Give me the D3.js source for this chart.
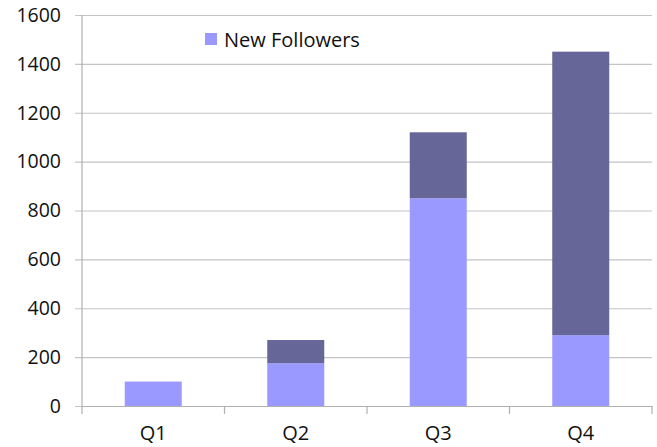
<!DOCTYPE html>
<html>
<head>
<meta charset="utf-8">
<script src="https://d3js.org/d3.v7.min.js"></script>
<style>
  body { margin: 0; background: #fff; }
  text { font-family: "Open Sans", sans-serif; fill: #111; }
</style>
</head>
<body>
<script>
let width = 657,
    height = 447;

let quarters = ["Q1", "Q2", "Q3", "Q4"];
let newFollowers = [100, 175, 850, 290];
let otherFollowers = [0, 95, 270, 1160];
let yTicks = [0, 200, 400, 600, 800, 1000, 1200, 1400, 1600];

let dataset = quarters.map(function(q, i) {
  return {Quarter: q, New: newFollowers[i], Other: otherFollowers[i]};
});

let series = d3.stack().keys(["New", "Other"])(dataset);
let colors = ["#9999ff", "#666699"];

let svg = d3.select("body")
            .append("svg")
            .attr("width", width)
            .attr("height", height);

let plotLeft = 82, plotRight = 652, plotTop = 15, plotBottom = 406;

let xScale = d3.scaleBand()
               .domain(quarters)
               .range([plotLeft, plotRight])
               .paddingInner(0.6)
               .paddingOuter(0.3);

let xOuter = d3.scaleBand().domain(quarters).range([plotLeft, plotRight]);

let yScale = d3.scaleLinear()
               .domain([0, 1600])
               .range([plotBottom, plotTop]);

// gridlines + y labels
let yAxis = d3.axisLeft(yScale)
              .tickValues(yTicks)
              .tickSize(-(plotRight - plotLeft) - 7)
              .tickPadding(14)
              .tickFormat(d3.format("d"));

let gy = svg.append("g")
   .attr("transform", "translate(" + (plotLeft - 7) + ",0)")
   .call(yAxis);
gy.select(".domain").remove();
gy.selectAll("line").attr("stroke", "#c4c4c4").attr("stroke-width", 1.2);
gy.selectAll("text").style("font-size", "19.5px");

// vertical axis line
svg.append("line")
   .attr("x1", plotLeft).attr("x2", plotLeft)
   .attr("y1", plotTop).attr("y2", plotBottom + 8)
   .attr("stroke", "#b0b0b0").attr("stroke-width", 1.2);

// bars
let groups = svg.selectAll("g.series")
    .data(series)
    .enter()
    .append("g")
    .attr("class", "series")
    .style("fill", function(d, i) { return colors[i]; });

groups.selectAll("rect")
    .data(function(d) { return d; })
    .enter()
    .append("rect")
    .attr("x", function(d) { return xScale(d.data.Quarter); })
    .attr("y", function(d) { return yScale(d[1]); })
    .attr("height", function(d) { return yScale(d[0]) - yScale(d[1]); })
    .attr("width", xScale.bandwidth());

// x axis
let xAxis = d3.axisBottom(xOuter).tickSize(0).tickPadding(20);
let gx = svg.append("g")
   .attr("transform", "translate(0," + plotBottom + ")")
   .call(xAxis);
gx.select(".domain").attr("stroke", "#b0b0b0").attr("stroke-width", 1.2);
gx.selectAll("text").style("font-size", "20px");

// category separator ticks
svg.selectAll("line.sep")
   .data(quarters.slice(1).concat(["end"]))
   .enter()
   .append("line")
   .attr("class", "sep")
   .attr("x1", function(d) { return d === "end" ? plotRight : xOuter(d); })
   .attr("x2", function(d) { return d === "end" ? plotRight : xOuter(d); })
   .attr("y1", plotBottom).attr("y2", plotBottom + 8)
   .attr("stroke", "#b0b0b0").attr("stroke-width", 1.2);

// legend
svg.append("rect")
   .attr("x", 205).attr("y", 33)
   .attr("width", 12).attr("height", 12)
   .attr("fill", colors[0]);
svg.append("text")
   .attr("x", 224).attr("y", 47)
   .style("font-size", "20px")
   .text("New Followers");
</script>
</body>
</html>
